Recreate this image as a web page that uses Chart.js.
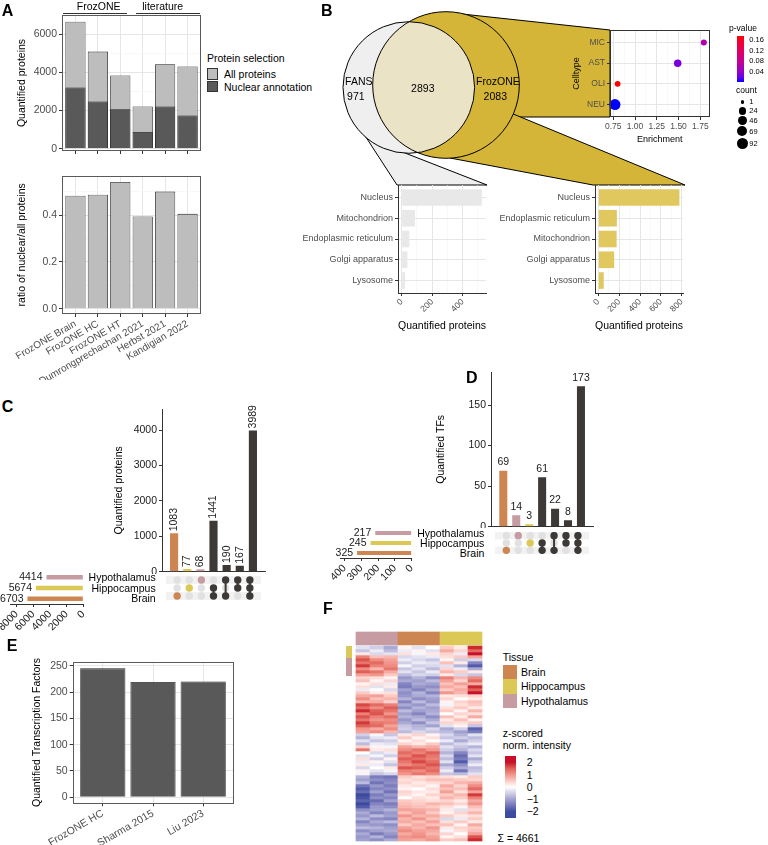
<!DOCTYPE html>
<html>
<head>
<meta charset="utf-8">
<title>FrozONE figure</title>
<script src="https://cdn.jsdelivr.net/npm/chart.js@4.4.1/dist/chart.umd.min.js"></script>
<style>
  body { margin: 0; background: #fff; }
  #fig { position: relative; width: 768px; height: 845px; overflow: hidden; font-family: "Liberation Sans", Arial, sans-serif; }
  #fig canvas { position: absolute; }
  .t { position: absolute; white-space: nowrap; line-height: 1; color: #000; }
  .box { position: absolute; box-sizing: border-box; }
</style>
</head>
<body>
<div id="fig"></div>
<script>
/* ---------- data ---------- */

// A - proteins per study
const studies = ['FrozONE Brain', 'FrozONE HC', 'FrozONE HT', 'Dumrongprechachan 2021', 'Herbst 2021', 'Kandigian 2022'];
const allProteins = [6640, 5080, 3830, 2210, 4420, 4300];
const nuclearProteins = [3200, 2470, 2070, 870, 2210, 1740];
const nuclearRatio = [0.482, 0.487, 0.541, 0.394, 0.500, 0.405];

// B - venn, cell type enrichment, compartments
const vennSets = ['FANS', 'FrozONE'];
const vennCounts = [971, 2893, 2083]; // FANS only, shared, FrozONE only
const cellTypes = ['NEU', 'OLI', 'AST', 'MIC'];
const enrichment = [0.77, 0.80, 1.49, 1.79];
const pValues = [0.004, 0.175, 0.028, 0.062];
const cellCounts = [92, 9, 26, 11];
const pBreaks = [0.16, 0.12, 0.08, 0.04];
const countBreaks = [1, 24, 46, 69, 92];
const fansCompartments = ['Nucleus', 'Mitochondrion', 'Endoplasmic reticulum', 'Golgi apparatus', 'Lysosome'];
const fansCounts = [525, 87, 50, 37, 22];
const frozCompartments = ['Nucleus', 'Endoplasmic reticulum', 'Mitochondrion', 'Golgi apparatus', 'Lysosome'];
const frozCounts = [778, 178, 176, 152, 52];

// C - protein overlap between tissues
const tissues = ['Brain', 'Hippocampus', 'Hypothalamus'];
const protSetSizes = [6703, 5674, 4414];
const protCombos = [['Brain'], ['Hippocampus'], ['Hypothalamus'], ['Brain', 'Hippocampus'], ['Brain', 'Hypothalamus'], ['Hippocampus', 'Hypothalamus'], ['Brain', 'Hippocampus', 'Hypothalamus']];
const protComboCounts = [1083, 77, 68, 1441, 190, 167, 3989];

// D - transcription factor overlap
const tfSetSizes = [325, 245, 217];
const tfCombos = [['Brain'], ['Hypothalamus'], ['Hippocampus'], ['Brain', 'Hippocampus'], ['Brain', 'Hypothalamus'], ['Hippocampus', 'Hypothalamus'], ['Brain', 'Hippocampus', 'Hypothalamus']];
const tfComboCounts = [69, 14, 3, 61, 22, 8, 173];

// E - transcription factors per study
const tfStudies = ['FrozONE HC', 'Sharma 2015', 'Liu 2023'];
const tfCounts = [245, 219, 220];

// F - heatmap (z-scored intensities, rows top to bottom)
const heatTissue = ['Hypothalamus', 'Hypothalamus', 'Hypothalamus', 'Brain', 'Brain', 'Brain', 'Hippocampus', 'Hippocampus', 'Hippocampus'];
const rowAnnoTissue = ['Hippocampus', 'Hypothalamus'];
const rowAnnoSpan = [[0, 4], [4, 10]];
const proteinTotal = 4661;
const zBreaks = [2, 1, 0, -1, -2];
const heat = [
  [-0.3, -0.5, -0.9, 0.1, -0.3, 0.0, 0.5, 0.2, 1.9],
  [-0.6, -0.2, -0.7, -0.2, 0.1, -0.3, 0.8, 0.4, 1.4],
  [0.2, -0.4, -0.3, 0.3, -0.1, 0.2, 0.4, -0.2, 2.2],
  [1.2, 0.6, 0.7, -0.4, -0.3, -0.2, 0.3, 0.5, 0.9],
  [1.6, 1.1, 0.9, -0.2, -0.4, -0.6, 0.1, -0.5, -0.4],
  [1.3, 1.4, 1.0, -0.5, -0.2, -0.3, 0.6, 0.2, -1.3],
  [1.8, 1.2, 1.1, -0.1, -0.5, -0.4, -0.3, -0.8, -1.8],
  [1.1, 0.7, 1.3, -0.6, -0.3, -0.7, 0.4, -0.2, -0.9],
  [1.5, 1.3, 0.8, -0.3, -0.6, -0.2, 0.7, 0.5, 0.2],
  [0.9, 1.0, 0.5, -0.7, -0.4, -0.5, 0.2, -0.4, -0.6],
  [0.4, 0.3, 0.1, -1.1, -0.8, -1.2, 1.2, 0.7, 1.1],
  [0.6, 0.1, 0.4, -0.9, -1.0, -0.7, 0.9, 0.4, 1.4],
  [0.1, 0.3, -0.2, -1.3, -0.9, -1.0, 0.6, 0.9, 0.8],
  [0.3, -0.3, 0.2, -1.4, -1.1, -1.2, 0.8, 0.6, 1.9],
  [-0.2, 0.0, -0.4, -1.0, -1.3, -0.9, 0.5, 0.8, 1.5],
  [0.5, 0.2, 0.3, -1.2, -0.8, -1.3, 1.0, 0.7, 2.1],
  [0.8, 0.9, 0.5, -1.1, -0.9, -0.8, 0.2, 0.3, 0.4],
  [1.1, 0.6, 0.7, -0.8, -1.2, -1.0, 0.4, 0.0, 0.2],
  [0.7, 0.8, 0.4, -1.3, -0.7, -1.1, 0.1, 0.4, 0.6],
  [1.7, 1.4, 1.2, -0.9, -1.1, -0.7, -0.1, 0.3, 0.5],
  [1.4, 1.1, 1.5, -1.2, -0.8, -1.0, 0.3, 0.5, 0.2],
  [1.9, 1.5, 1.3, -0.7, -1.0, -0.9, 0.5, 0.1, 0.7],
  [1.2, 1.6, 1.0, -1.0, -1.3, -0.8, 0.0, 0.4, 0.3],
  [1.6, 1.2, 1.4, -0.8, -0.9, -1.2, 0.6, 0.2, 0.8],
  [1.3, 1.0, 1.1, -1.1, -0.7, -0.9, 0.2, 0.6, 0.1],
  [1.8, 1.3, 1.2, -0.9, -1.2, -0.6, 0.4, 0.3, 0.5],
  [1.5, 1.4, 0.9, -0.6, -0.8, -1.0, -0.3, 0.1, -0.6],
  [1.0, 0.8, 1.1, -0.5, -0.7, -0.4, -0.9, -0.5, -1.7],
  [0.9, 1.1, 0.7, -0.7, -0.4, -0.6, -0.7, -1.0, -1.4],
  [-0.5, -0.1, -0.6, 0.2, 0.4, 0.1, -0.4, -0.8, -0.3],
  [-0.8, -0.3, -0.2, 0.5, 0.1, 0.3, -0.6, -0.5, -0.7],
  [-0.3, -0.6, -0.5, 0.1, 0.3, 0.0, -0.2, -0.9, -0.5],
  [-0.7, -0.2, -0.3, 0.4, 0.2, 0.5, -0.7, -0.4, -0.2],
  [0.4, 0.1, -0.1, 0.9, 0.7, 0.8, -0.3, -0.6, -0.8],
  [1.3, 0.2, 0.3, 1.1, 1.3, 1.0, -0.5, -0.8, -0.4],
  [0.0, -0.4, -0.2, 1.4, 1.2, 1.5, -0.8, -1.3, -0.6],
  [-0.3, -0.1, -0.5, 1.2, 1.6, 1.3, -0.4, -1.6, -0.3],
  [0.3, -0.5, 0.1, 1.5, 1.4, 1.2, -0.7, -1.4, -0.9],
  [-0.2, 0.1, -0.3, 1.3, 1.7, 1.4, -0.3, -1.8, -0.5],
  [0.2, -0.2, -0.6, 1.1, 1.3, 1.6, -0.9, -1.2, -0.2],
  [-0.4, 0.0, 0.2, 1.6, 1.5, 1.3, -0.5, -0.9, -0.7],
  [0.1, -0.3, -0.1, 1.2, 1.1, 1.4, -0.2, -1.5, -0.6],
  [-0.1, -0.6, -0.4, 1.0, 1.3, 1.1, -0.6, -0.7, -0.3],
  [-0.8, -1.4, -1.5, 0.5, 0.3, 0.4, 0.3, 0.2, 0.5],
  [-1.0, -1.2, -1.3, 0.3, 0.4, 0.6, 0.6, 0.5, 0.4],
  [-0.7, -1.5, -1.2, 0.4, 0.2, 0.3, 0.4, 0.7, 0.8],
  [-1.5, -1.1, -1.4, 0.2, 0.3, 0.1, 0.8, 0.4, 1.1],
  [-1.8, -1.3, -1.2, 0.1, 0.0, 0.3, 0.6, 0.6, 1.4],
  [-1.6, -1.0, -1.5, 0.4, 0.2, 0.2, 0.9, 0.3, 0.9],
  [-2.0, -1.4, -1.1, 0.3, 0.1, 0.4, 0.5, 0.7, 1.8],
  [-1.9, -1.2, -1.3, 0.0, 0.3, 0.2, 0.7, 0.5, 1.2],
  [-1.7, -1.6, -1.0, 0.5, 0.4, 0.3, 0.4, 0.2, 0.8],
  [-2.1, -1.3, -1.4, 0.6, 0.5, 0.7, 0.6, 0.4, 1.0],
  [-1.8, -1.1, -1.2, 0.7, 0.6, 0.5, 0.3, 0.1, 0.6],
  [-1.2, -1.0, -0.8, 0.9, 0.8, 0.7, 0.2, -0.3, 0.4],
  [-0.9, -1.3, -1.1, 0.6, 0.9, 0.5, 0.1, 0.4, 0.7],
  [-1.1, -0.7, -1.0, 1.0, 0.7, 0.8, 0.5, 0.2, 0.3],
  [-0.8, -1.2, -1.3, 0.7, 1.0, 0.6, -0.4, -0.2, 0.5],
  [-1.3, -0.9, -0.7, 0.8, 0.6, 0.9, 0.3, 0.5, 0.2],
  [-1.0, -1.1, -1.2, 0.5, 0.8, 0.6, 0.6, 0.1, 0.8],
  [-0.7, -0.8, -1.0, 0.9, 0.7, 1.0, 0.2, 0.4, 0.5],
  [-1.2, -1.0, -0.9, 1.1, 0.9, 0.8, -0.1, 0.3, 0.6],
  [-0.9, -1.4, -1.1, 0.8, 1.0, 0.7, 0.4, 0.0, 0.9],
  [-1.1, -0.8, -1.3, 1.0, 1.1, 0.9, 0.1, 0.3, 1.6],
  [-1.0, -1.2, -0.9, 0.9, 0.8, 1.0, 0.5, 0.6, 1.9]
];

/* ---------- colours ---------- */
const tissueColor = { Brain: '#cd8552', Hippocampus: '#dcc955', Hypothalamus: '#c69ca2' };
const dark = '#3d3936';
const vennGold = '#d5b537', vennGrey = '#efefef', vennBoth = '#ebe3c6';
const barGold = '#e0c75e', barGrey = '#e8e8e8';

function toLin(c) { c /= 255; return c <= 0.04045 ? c / 12.92 : Math.pow((c + 0.055) / 1.055, 2.4); }
function toSrgb(c) { const v = c <= 0.0031308 ? 12.92 * c : 1.055 * Math.pow(c, 1 / 2.4) - 0.055; return Math.round(Math.max(0, Math.min(1, v)) * 255); }
function rgb2lab(rgb) {
  const r = toLin(rgb[0]), g = toLin(rgb[1]), b = toLin(rgb[2]);
  const f = t => t > 0.008856 ? Math.cbrt(t) : 7.787 * t + 16 / 116;
  const x = f((0.4124 * r + 0.3576 * g + 0.1805 * b) / 0.95047);
  const y = f(0.2126 * r + 0.7152 * g + 0.0722 * b);
  const z = f((0.0193 * r + 0.1192 * g + 0.9505 * b) / 1.08883);
  return [116 * y - 16, 500 * (x - y), 200 * (y - z)];
}
function lab2rgb(lab) {
  const fy = (lab[0] + 16) / 116, fx = lab[1] / 500 + fy, fz = fy - lab[2] / 200;
  const fi = t => t * t * t > 0.008856 ? t * t * t : (t - 16 / 116) / 7.787;
  const x = fi(fx) * 0.95047, y = fi(fy), z = fi(fz) * 1.08883;
  return [toSrgb(3.2406 * x - 1.5372 * y - 0.4986 * z), toSrgb(-0.9689 * x + 1.8758 * y + 0.0415 * z), toSrgb(0.0557 * x - 0.2040 * y + 1.0570 * z)];
}
function mixLab(c1, c2, t) {
  const a = rgb2lab(c1), b = rgb2lab(c2);
  const m = lab2rgb(a.map((v, i) => v + (b[i] - v) * t));
  return 'rgb(' + m.join(',') + ')';
}
const pMin = Math.min(...pValues), pMax = Math.max(...pValues);
const pColor = p => mixLab([0, 0, 255], [255, 0, 0], (p - pMin) / (pMax - pMin));
const zColor = v => {
  const t = Math.max(-1, Math.min(1, v / 2));
  return t < 0 ? mixLab([255, 255, 255], [59, 76, 160], -t) : mixLab([255, 255, 255], [200, 16, 40], t);
};
const sizeR = n => 1.8 + 3.7 * Math.sqrt((n - 1) / 91);

/* ---------- chart.js setup ---------- */
Chart.defaults.font.family = '"Liberation Sans", Arial, sans-serif';
Chart.defaults.font.size = 10.5;
Chart.defaults.color = '#4d4d4d';
Chart.defaults.animation = false;
Chart.defaults.responsive = false;
Chart.defaults.events = [];
Chart.defaults.plugins.legend.display = false;
Chart.defaults.plugins.tooltip.enabled = false;

// theme_bw panel border
Chart.register({
  id: 'frame',
  afterDatasetsDraw(chart, args, o) {
    if (!o.color) return;
    const a = chart.chartArea, c = chart.ctx;
    c.save();
    c.strokeStyle = o.color;
    c.lineWidth = 1;
    c.strokeRect(Math.round(a.left) + 0.5, Math.round(a.top) + 0.5, Math.round(a.right - a.left) - 1, Math.round(a.bottom - a.top) - 1);
    c.restore();
  }
});

const fig = document.getElementById('fig');

function txt(x, cy, s, o) {
  o = o || {};
  const f = o.size || 10.5;
  const d = document.createElement('div');
  d.className = 't';
  d.textContent = s;
  d.style.fontSize = f + 'px';
  d.style.top = (cy - 0.52 * f) + 'px';
  if (o.align === 'right') d.style.right = (768 - x) + 'px';
  else if (o.align === 'center') { d.style.left = x + 'px'; d.style.transform = 'translateX(-50%)'; }
  else d.style.left = x + 'px';
  if (o.bold) d.style.fontWeight = 'bold';
  if (o.color) d.style.color = o.color;
  fig.appendChild(d);
}
function block(x, y, w, h, css) {
  const d = document.createElement('div');
  d.className = 'box';
  Object.assign(d.style, { left: x + 'px', top: y + 'px', width: w + 'px', height: h + 'px' }, css || {});
  fig.appendChild(d);
}

// put a chart on the page so that its plot area lands on `area`
function draw(box, area, cfg) {
  const cv = document.createElement('canvas');
  cv.width = box.w; cv.height = box.h;
  cv.style.left = box.x + 'px'; cv.style.top = box.y + 'px';
  fig.appendChild(cv);
  const yw = area.l - box.x, xh = box.y + box.h - area.b;
  cfg.options.layout = { padding: { left: 0, bottom: 0, top: area.t - box.y, right: box.x + box.w - area.r } };
  cfg.options.scales.x.afterFit = s => { s.height = xh; s.paddingLeft = 0; s.paddingRight = 0; };
  cfg.options.scales.y.afterFit = s => { s.width = yw; s.paddingTop = 0; s.paddingBottom = 0; };
  return new Chart(cv, cfg);
}

function ticksAt(major, minor) {
  return s => {
    s.ticks = major.map(v => ({ value: v }))
      .concat((minor || []).map(v => ({ value: v, minor: true })))
      .sort((a, b) => a.value - b.value);
  };
}
const isMinor = c => !!(c.tick && c.tick.minor);
const keepMajor = fmt => (v, i, t) => t[i].minor ? '' : fmt(v);
function bwGrid() {
  return {
    color: c => isMinor(c) ? '#f3f3f3' : '#e6e6e6',
    lineWidth: c => isMinor(c) ? 0.6 : 1,
    tickColor: c => isMinor(c) ? 'rgba(0,0,0,0)' : '#333',
    tickLength: 3,
    offset: false
  };
}
const range = n => Array.from({ length: n }, (_, i) => i);

/* ---------- A ---------- */
const barOpts = { grouped: false, barPercentage: 0.9, categoryPercentage: 1, borderColor: '#1e1e1e', borderWidth: 0.8 };

draw({ x: 0, y: 0, w: 205, h: 155 }, { l: 62, t: 15, r: 201, b: 151 }, {
  type: 'bar',
  data: { datasets: [
    { data: nuclearProteins.map((v, i) => ({ x: i, y: v })), backgroundColor: '#595959', order: 0 },
    { data: allProteins.map((v, i) => ({ x: i, y: v })), backgroundColor: '#bdbdbd', order: 1 }
  ] },
  options: {
    datasets: { bar: barOpts },
    scales: {
      x: { type: 'linear', offset: false, min: -0.6, max: 5.6, afterBuildTicks: ticksAt(range(6)), ticks: { display: false }, grid: bwGrid(), border: { display: false } },
      y: { min: -120, max: 6994, afterBuildTicks: ticksAt([0, 2000, 4000, 6000], [1000, 3000, 5000]),
           ticks: { callback: keepMajor(String), padding: 2 }, grid: bwGrid(), border: { display: false },
           title: { display: true, text: 'Quantified proteins', color: '#000', padding: { top: 15.4, bottom: 0 } } }
    },
    plugins: { frame: { color: '#5a5a5a' } }
  }
});

draw({ x: 0, y: 165, w: 205, h: 215 }, { l: 62, t: 175.7, r: 201, b: 314 }, {
  type: 'bar',
  data: { datasets: [{ data: nuclearRatio.map((v, i) => ({ x: i, y: v })), backgroundColor: '#bdbdbd' }] },
  options: {
    datasets: { bar: barOpts },
    scales: {
      x: { type: 'linear', offset: false, min: -0.6, max: 5.6, afterBuildTicks: ticksAt(range(6)),
           ticks: { callback: v => studies[v], minRotation: 30, maxRotation: 30, autoSkip: false, padding: 1, font: { size: 10 } },
           grid: bwGrid(), border: { display: false } },
      y: { min: -0.0226, max: 0.5678, afterBuildTicks: ticksAt([0, 0.2, 0.4], [0.1, 0.3, 0.5]),
           ticks: { callback: keepMajor(v => v.toFixed(1)), padding: 2 }, grid: bwGrid(), border: { display: false },
           title: { display: true, text: 'ratio of nuclear/all proteins', color: '#000', padding: { top: 15.4, bottom: 0 } } }
    },
    plugins: { frame: { color: '#5a5a5a' } }
  }
});

// facet strips and legend
txt(98.7, 6.7, 'FrozONE', { align: 'center' });
block(63.3, 13, 64, 1, { background: '#333' });
txt(162.7, 6.7, 'literature', { align: 'center' });
block(135.7, 13, 64.3, 1, { background: '#333' });
txt(207, 58.5, 'Protein selection');
block(206.7, 68.3, 11.7, 11.7, { background: '#bdbdbd', border: '1px solid #333' });
block(206.7, 80.7, 11.7, 11.7, { background: '#595959', border: '1px solid #333' });
txt(224, 74.5, 'All proteins');
txt(224, 87, 'Nuclear annotation');

/* ---------- B ---------- */
const vennGeom = {
  fans: { cx: 408.8, cy: 87.5, r: 65.8 },
  froz: { cx: 446, cy: 85, r: 73.3 },
  toDots: [[462, 14], [610, 30], [610, 117], [505, 117]],
  toFroz: [[505, 110.6], [685, 185], [593, 185], [450, 158]],
  toFans: [[360, 128], [397, 185], [487, 185], [405, 153]],
  labels: [[358.8, 82], [355.8, 97.5], [422.8, 89], [498, 82], [495.3, 97.5]]
};
const vennPlugin = {
  id: 'venn',
  afterDatasetsDraw(chart) {
    const G = vennGeom, c = chart.ctx, sx = chart.scales.x, sy = chart.scales.y;
    const X = v => sx.getPixelForValue(v), Y = v => sy.getPixelForValue(v);
    const R = r => Math.abs(sx.getPixelForValue(r) - sx.getPixelForValue(0));
    const poly = (pts, fill) => {
      c.beginPath();
      pts.forEach((p, i) => i ? c.lineTo(X(p[0]), Y(p[1])) : c.moveTo(X(p[0]), Y(p[1])));
      c.closePath(); c.fillStyle = fill; c.fill(); c.stroke();
    };
    const circ = g => { c.beginPath(); c.arc(X(g.cx), Y(g.cy), R(g.r), 0, 2 * Math.PI); };
    c.save();
    c.strokeStyle = '#000'; c.lineWidth = 1;
    poly(G.toFans, vennGrey); poly(G.toDots, vennGold); poly(G.toFroz, vennGold);
    circ(G.fans); c.fillStyle = vennGrey; c.fill();
    circ(G.froz); c.fillStyle = vennGold; c.fill();
    c.save(); circ(G.fans); c.clip(); circ(G.froz); c.fillStyle = vennBoth; c.fill(); c.restore();
    circ(G.fans); c.stroke(); circ(G.froz); c.stroke();
    c.fillStyle = '#000'; c.font = '10.5px "Liberation Sans", Arial, sans-serif';
    c.textAlign = 'center'; c.textBaseline = 'middle';
    const words = [vennSets[0], vennCounts[0], vennCounts[1], vennSets[1], vennCounts[2]];
    words.forEach((w, i) => c.fillText(String(w), X(G.labels[i][0]), Y(G.labels[i][1])));
    c.restore();
  }
};
draw({ x: 330, y: 0, w: 370, h: 190 }, { l: 330, t: 0, r: 700, b: 190 }, {
  type: 'scatter',
  data: { datasets: [] },
  options: { scales: { x: { display: false, min: 330, max: 700 }, y: { display: false, min: 0, max: 190, reverse: true } } },
  plugins: [vennPlugin]
});

// cell type enrichment dot plot
draw({ x: 570, y: 20, w: 145, h: 130 }, { l: 610, t: 30, r: 711, b: 117 }, {
  type: 'bubble',
  data: { datasets: [{
    data: enrichment.map((e, i) => ({ x: e, y: i, r: sizeR(cellCounts[i]) })),
    backgroundColor: pValues.map(pColor), borderWidth: 0, clip: false
  }] },
  options: {
    scales: {
      x: { type: 'linear', min: 0.7127, max: 1.855, afterBuildTicks: ticksAt([0.75, 1, 1.25, 1.5, 1.75], [0.875, 1.125, 1.375, 1.625]),
           ticks: { callback: keepMajor(v => v.toFixed(2)), font: { size: 8.5 }, padding: 2, minRotation: 0, maxRotation: 0, autoSkip: false },
           grid: bwGrid(), border: { display: false },
           title: { display: true, text: 'Enrichment', color: '#000', font: { size: 9 }, padding: { top: 0, bottom: 5.3 } } },
      y: { type: 'linear', min: -0.6, max: 3.6, afterBuildTicks: ticksAt(range(4)),
           ticks: { callback: v => cellTypes[v], font: { size: 8.5 }, padding: 2 }, grid: bwGrid(), border: { display: false },
           title: { display: true, text: 'Celltype', color: '#000', font: { size: 9 }, padding: { top: 1.6, bottom: 0 } } }
    },
    plugins: { frame: { color: '#333' } }
  }
});

// dot plot legends
txt(729, 28.3, 'p-value', { size: 8.5 });
const pStops = range(11).map(k => pColor(pMin + (pMax - pMin) * k / 10) + ' ' + (k * 10) + '%').join(',');
block(737.3, 36, 7, 45.7, { background: 'linear-gradient(to top,' + pStops + ')' });
pBreaks.forEach(p => txt(749.3, 36 + (pMax - p) * 45.7 / (pMax - pMin), p.toFixed(2), { size: 7.5 }));
txt(736, 90, 'count', { size: 8.5 });
let cy = 102;
countBreaks.forEach((n, k) => {
  const r = sizeR(n);
  if (k) cy += Math.max(9, sizeR(countBreaks[k - 1]) + r + 1.5);
  block(742.3 - r, cy - r, 2 * r, 2 * r, { background: '#000', borderRadius: '50%' });
  txt(749.3, cy, String(n), { size: 7.5 });
});

// compartment bar plots
function compartmentChart(box, area, names, counts, fill, xr, majors, minors) {
  return draw(box, area, {
    type: 'bar',
    data: { datasets: [{ data: counts.map((v, i) => ({ x: v, y: i })), backgroundColor: fill, barPercentage: 0.8, categoryPercentage: 1 }] },
    options: {
      indexAxis: 'y',
      scales: {
        x: { type: 'linear', min: xr[0], max: xr[1], afterBuildTicks: ticksAt(majors, minors),
             ticks: { callback: keepMajor(String), minRotation: 45, maxRotation: 45, autoSkip: false, font: { size: 8.5 }, padding: 1 },
             grid: bwGrid(), border: { color: '#333' },
             title: { display: true, text: 'Quantified proteins', color: '#000', padding: { top: 0, bottom: 2.7 } } },
        y: { type: 'linear', offset: false, reverse: true, min: -0.6, max: 4.6, afterBuildTicks: ticksAt(range(5)),
             ticks: { callback: v => names[v], font: { size: 9 }, padding: 2 }, grid: bwGrid(), border: { color: '#333' } }
      }
    }
  });
}
compartmentChart({ x: 270, y: 180, w: 220, h: 155 }, { l: 398, t: 185, r: 486, b: 293 }, fansCompartments, fansCounts, barGrey,
  [-24.3, 552.8], [0, 200, 400], [100, 300, 500]);
compartmentChart({ x: 490, y: 180, w: 200, h: 155 }, { l: 595, t: 185, r: 683, b: 293 }, frozCompartments, frozCounts, barGold,
  [-31.7, 812.5], [0, 200, 400, 600, 800], [100, 300, 500, 700]);

/* ---------- C / D upset plots ---------- */
function valueLabels(vertical) {
  return {
    id: 'valueLabels',
    afterDatasetsDraw(chart) {
      const c = chart.ctx, meta = chart.getDatasetMeta(0), pts = chart.data.datasets[0].data;
      c.save();
      c.fillStyle = '#1a1a1a';
      c.font = '10.5px "Liberation Sans", Arial, sans-serif';
      meta.data.forEach((bar, i) => {
        const s = String(pts[i].y);
        if (vertical) {
          c.save(); c.translate(bar.x, bar.y - 2); c.rotate(-Math.PI / 2);
          c.textAlign = 'left'; c.textBaseline = 'middle'; c.fillText(s, 0, 0); c.restore();
        } else {
          c.textAlign = 'center'; c.textBaseline = 'bottom'; c.fillText(s, bar.x, bar.y - 3);
        }
      });
      c.restore();
    }
  };
}
function upsetBars(box, area, values, comboList, xr, ymax, majors, vertical, title, titlePad) {
  return draw(box, area, {
    type: 'bar',
    data: { datasets: [{
      data: values.map((v, i) => ({ x: i, y: v })),
      backgroundColor: comboList.map(c => c.length === 1 ? tissueColor[c[0]] : dark),
      barPercentage: 0.62, categoryPercentage: 1
    }] },
    options: {
      scales: {
        x: { type: 'linear', offset: false, min: xr[0], max: xr[1], afterBuildTicks: ticksAt(range(comboList.length)),
             ticks: { display: false }, grid: { display: false }, border: { color: '#333' } },
        y: { min: 0, max: ymax, afterBuildTicks: ticksAt(majors),
             ticks: { callback: v => String(v), color: '#1a1a1a', padding: 2 },
             grid: { drawOnChartArea: false, tickLength: 3, tickColor: '#333' }, border: { color: '#333' },
             title: { display: true, text: title, color: '#000', padding: { top: titlePad, bottom: 0 } } }
      }
    },
    plugins: [valueLabels(vertical)]
  });
}
const stripes = {
  id: 'stripes',
  beforeDatasetsDraw(chart) {
    const c = chart.ctx, a = chart.chartArea, y = chart.scales.y;
    c.save(); c.fillStyle = '#f2f2f2';
    [0, 2].forEach(r => {
      const t = y.getPixelForValue(r + 0.5), b = y.getPixelForValue(r - 0.5);
      c.fillRect(a.left, t, a.right - a.left, b - t);
    });
    c.restore();
  }
};
function upsetMatrix(box, comboList, xr) {
  const bg = [], on = [], onCol = [], links = [];
  comboList.forEach((cmb, c) => {
    const rows = cmb.map(t => tissues.indexOf(t));
    tissues.forEach((t, r) => { if (rows.indexOf(r) < 0) bg.push({ x: c, y: r }); });
    rows.forEach(r => { on.push({ x: c, y: r }); onCol.push(cmb.length === 1 ? tissueColor[cmb[0]] : dark); });
    if (rows.length > 1) links.push({
      data: [{ x: c, y: Math.min(...rows) }, { x: c, y: Math.max(...rows) }],
      showLine: true, borderColor: dark, borderWidth: 2, pointRadius: 0, order: 2
    });
  });
  return draw(box, { l: box.x, t: box.y, r: box.x + box.w, b: box.y + box.h }, {
    type: 'scatter',
    data: { datasets: [
      { data: bg, backgroundColor: '#e1e1e1', pointRadius: 3.7, borderWidth: 0, order: 3 }
    ].concat(links, [{ data: on, backgroundColor: onCol, pointRadius: 3.7, borderWidth: 0, order: 1 }]) },
    options: { scales: { x: { display: false, min: xr[0], max: xr[1] }, y: { display: false, min: -0.5, max: 2.5 } } },
    plugins: [stripes]
  });
}
const sizeLabels = {
  id: 'sizeLabels',
  afterDatasetsDraw(chart) {
    const c = chart.ctx, meta = chart.getDatasetMeta(0), pts = chart.data.datasets[0].data;
    c.save();
    c.fillStyle = '#1a1a1a'; c.font = '10.5px "Liberation Sans", Arial, sans-serif';
    c.textAlign = 'right'; c.textBaseline = 'middle';
    meta.data.forEach((bar, i) => c.fillText(String(pts[i].x), bar.x - 4, bar.y));
    c.restore();
  }
};
function setSizes(box, area, sizes, xmax, majors) {
  return draw(box, area, {
    type: 'bar',
    data: { datasets: [{
      data: sizes.map((v, r) => ({ x: v, y: r })),
      backgroundColor: tissues.map(t => tissueColor[t]), barPercentage: 0.42, categoryPercentage: 1
    }] },
    options: {
      indexAxis: 'y',
      scales: {
        x: { type: 'linear', reverse: true, min: 0, max: xmax, afterBuildTicks: ticksAt(majors),
             ticks: { callback: v => String(v), minRotation: 45, maxRotation: 45, autoSkip: false, color: '#1a1a1a', padding: 1 },
             grid: { drawOnChartArea: false, tickLength: 3, tickColor: '#333' }, border: { color: '#333' } },
        y: { type: 'linear', offset: false, min: -0.5, max: 2.5, afterBuildTicks: ticksAt(range(3)),
             ticks: { display: false }, grid: { display: false }, border: { display: false } }
      }
    },
    plugins: [sizeLabels]
  });
}

// C
const cX = [-0.92, 6.92];
upsetBars({ x: 100, y: 398, w: 170, h: 176 }, { l: 162, t: 409, r: 265, b: 571.7 }, protComboCounts, protCombos, cX,
  4593, [0, 1000, 2000, 3000, 4000], true, 'Quantified proteins', 13);
upsetMatrix({ x: 162, y: 572, w: 103, h: 32 }, protCombos, cX);
setSizes({ x: 0, y: 572, w: 92, h: 70 }, { l: 10, t: 572, r: 83.3, b: 604 }, protSetSizes, 8800, [0, 2000, 4000, 6000, 8000]);
tissues.forEach((t, r) => txt(155.7, 572 + (2.5 - r) * 32 / 3, t, { align: 'right' }));

// D
const dX = [-0.95, 6.93];
upsetBars({ x: 420, y: 360, w: 175, h: 168 }, { l: 491, t: 372, r: 593, b: 526.7 }, tfComboCounts, tfCombos, dX,
  190.7, [0, 50, 100, 150], false, 'Quantified TFs', 14.5);
upsetMatrix({ x: 491, y: 528, w: 102, h: 30 }, tfCombos, dX);
setSizes({ x: 330, y: 528, w: 90, h: 62 }, { l: 340, t: 528, r: 411.7, b: 558 }, tfSetSizes, 426.8, [0, 100, 200, 300, 400]);
tissues.forEach((t, r) => txt(484.3, 528 + (2.5 - r) * 10, t, { align: 'right' }));

/* ---------- E ---------- */
draw({ x: 20, y: 650, w: 220, h: 195 }, { l: 72.7, t: 661.7, r: 233.3, b: 803.3 }, {
  type: 'bar',
  data: { datasets: [{ data: tfCounts.map((v, i) => ({ x: i, y: v })), backgroundColor: '#595959' }] },
  options: {
    datasets: { bar: barOpts },
    scales: {
      x: { type: 'linear', offset: false, min: -0.6, max: 2.6, afterBuildTicks: ticksAt(range(3)),
           ticks: { callback: v => tfStudies[v], minRotation: 30, maxRotation: 30, autoSkip: false, padding: 1 },
           grid: bwGrid(), border: { display: false } },
      y: { min: -11.4, max: 257.6, afterBuildTicks: ticksAt([0, 50, 100, 150, 200, 250], [25, 75, 125, 175, 225]),
           ticks: { callback: keepMajor(String), padding: 2 }, grid: bwGrid(), border: { display: false },
           title: { display: true, text: 'Quantified Transcription Factors', color: '#000', padding: { top: 10.9, bottom: 0 } } }
    },
    plugins: { frame: { color: '#5a5a5a' } }
  }
});

/* ---------- F ---------- */
const heatBox = { x: 340, y: 630, w: 145, h: 213 };
const hx0 = 363, cellW = 14, hy0 = 646, cellH = 3; // centre of first column, top of first row (px)
const annTop = (632 - hy0) / cellH, annBottom = (645 - hy0) / cellH;
draw(heatBox, { l: heatBox.x, t: heatBox.y, r: heatBox.x + heatBox.w, b: heatBox.y + heatBox.h }, {
  type: 'bar',
  data: { datasets: heat.map((row, r) => ({
    data: row.map((v, c) => ({ x: c, y: [r, r + 1] })),
    backgroundColor: row.map(zColor)
  })).concat([
    { data: heatTissue.map((t, c) => ({ x: c, y: [annTop, annBottom] })), backgroundColor: heatTissue.map(t => tissueColor[t]) },
    { data: rowAnnoSpan.map(s => ({ x: -1, y: s })), backgroundColor: rowAnnoTissue.map(t => tissueColor[t]), barPercentage: 6 / cellW }
  ]) },
  options: {
    datasets: { bar: { grouped: false, barPercentage: 1, categoryPercentage: 1, borderWidth: 0 } },
    scales: {
      x: { type: 'linear', display: false, offset: false, afterBuildTicks: ticksAt([-1].concat(range(9))),
           min: (heatBox.x - hx0) / cellW, max: (heatBox.x + heatBox.w - hx0) / cellW },
      y: { type: 'linear', display: false, reverse: true,
           min: (heatBox.y - hy0) / cellH, max: (heatBox.y + heatBox.h - hy0) / cellH }
    }
  }
});

// heatmap legends
txt(502.7, 657, 'Tissue');
['Brain', 'Hippocampus', 'Hypothalamus'].forEach((t, k) => {
  block(502.7, 665 + k * 14.4, 14.3, 14.4, { background: tissueColor[t] });
  txt(521, 665 + k * 14.4 + 7.2, t);
});
txt(502.7, 733, 'z-scored');
txt(502.7, 745.5, 'norm. intensity');
const zStops = range(11).map(k => zColor(2.5 - k * 0.5) + ' ' + (k * 10) + '%').join(',');
block(505, 756, 11, 62, { background: 'linear-gradient(to bottom,' + zStops + ')' });
zBreaks.forEach(z => txt(526.7, 787.3 - 12.2 * z, z < 0 ? '\u2212' + Math.abs(z) : String(z)));
txt(497.5, 838, '\u03a3 = ' + proteinTotal);

/* ---------- panel letters ---------- */
txt(1.7, 10.9, 'A', { size: 16, bold: true });
txt(321, 10.9, 'B', { size: 16, bold: true });
txt(1.7, 407.5, 'C', { size: 16, bold: true });
txt(466, 378, 'D', { size: 16, bold: true });
txt(6.7, 646.7, 'E', { size: 16, bold: true });
txt(323, 609, 'F', { size: 16, bold: true });
</script>
</body>
</html>
